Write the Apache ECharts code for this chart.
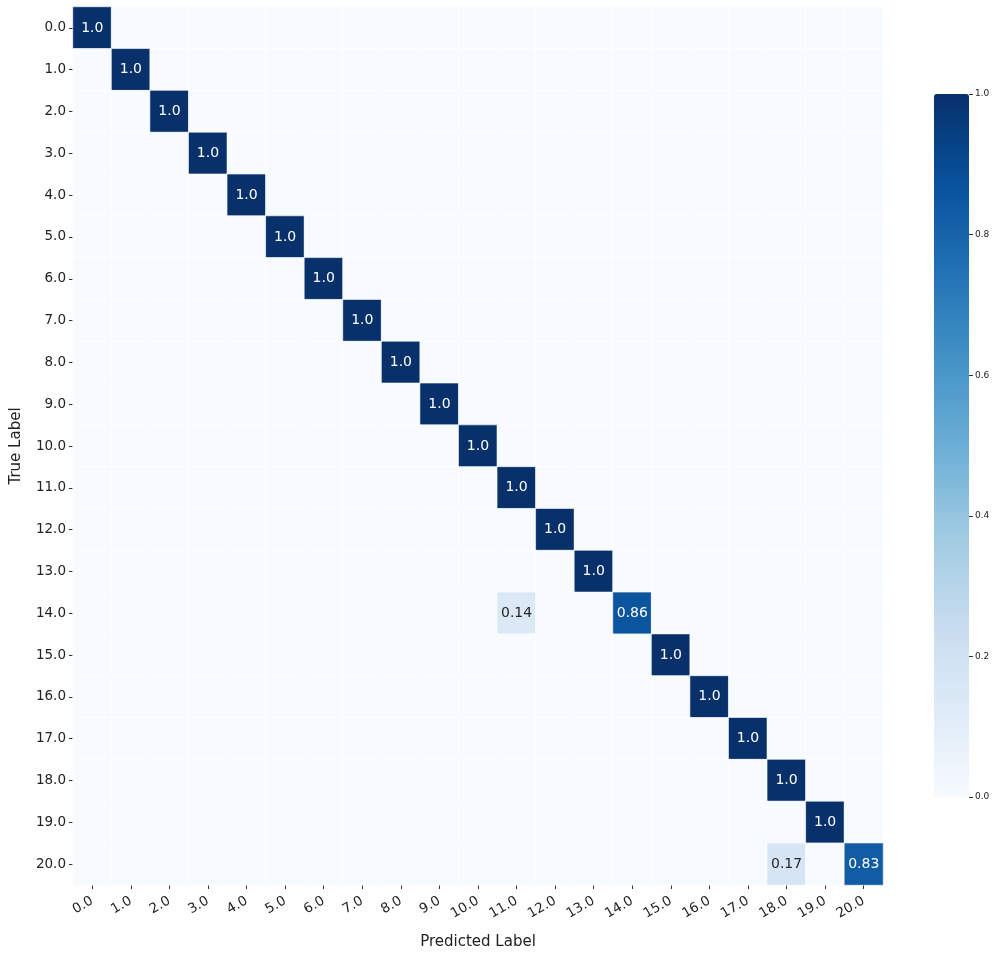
<!DOCTYPE html>
<html><head><meta charset="utf-8">
<script src="https://cdn.jsdelivr.net/npm/echarts@6/dist/echarts.min.js"></script>
<style>html,body{margin:0;padding:0;background:#fff}#c{width:997px;height:955px}</style>
</head><body><div id="c"></div>
<script>
const labels = ['0.0','1.0','2.0','3.0','4.0','5.0','6.0','7.0','8.0','9.0','10.0','11.0','12.0','13.0','14.0','15.0','16.0','17.0','18.0','19.0','20.0'];
// non-zero cells: [predictedIndex, trueIndex, value]
const nonZero = [
  [0,0,1.0],[1,1,1.0],[2,2,1.0],[3,3,1.0],[4,4,1.0],[5,5,1.0],[6,6,1.0],[7,7,1.0],
  [8,8,1.0],[9,9,1.0],[10,10,1.0],[11,11,1.0],[12,12,1.0],[13,13,1.0],
  [11,14,0.14],[14,14,0.86],[15,15,1.0],[16,16,1.0],[17,17,1.0],[18,18,1.0],
  [19,19,1.0],[18,20,0.17],[20,20,0.83]
];
const colorbarTicks = [0.0,0.2,0.4,0.6,0.8,1.0];
const blues = ['#f7fbff','#deebf7','#c6dbef','#9ecae1','#6baed6','#4292c6','#2171b5','#08519c','#08306b'];

const n = labels.length;
const map = {};
nonZero.forEach(d => { map[d[0]+','+d[1]] = d[2]; });
const data = [];
for (let y = 0; y < n; y++) for (let x = 0; x < n; x++) {
  const v = map[x+','+y] || 0;
  data.push({value: [x, y, v], label: {color: v > 0.5 ? '#ffffff' : '#262626'}});
}
const FONT = 'DejaVu Sans';
const chart = echarts.init(document.getElementById('c'));
chart.setOption({
  backgroundColor: '#fff',
  animation: false,
  textStyle: {fontFamily: FONT},
  grid: [
    {left: 73, top: 7, width: 810, height: 878, containLabel: false, outerBoundsMode: 'none'},
    {left: 934, top: 94, width: 35, height: 703, containLabel: false, outerBoundsMode: 'none'}
  ],
  xAxis: [
    {type: 'category', data: labels, gridIndex: 0,
     name: 'Predicted Label', nameLocation: 'middle', nameGap: 50,
     nameTextStyle: {fontSize: 15, color: '#222', fontFamily: FONT},
     axisLine: {show: false}, splitLine: {show: false},
     axisTick: {show: true, alignWithLabel: true, length: 4, lineStyle: {color: '#333'}},
     axisLabel: {rotate: 30, fontSize: 13.5, color: '#222', margin: 15, fontFamily: FONT}},
    {type: 'category', data: [''], gridIndex: 1, show: false,
     axisTick: {show: false}, axisLabel: {show: false}, axisLine: {show: false}, splitLine: {show: false}}
  ],
  yAxis: [
    {type: 'category', data: labels, gridIndex: 0, inverse: true,
     name: 'True Label', nameLocation: 'middle', nameGap: 49, nameRotate: 90,
     nameTextStyle: {fontSize: 15, color: '#222', fontFamily: FONT},
     axisLine: {show: false}, splitLine: {show: false},
     axisTick: {show: true, alignWithLabel: true, length: 4, lineStyle: {color: '#333'}},
     axisLabel: {fontSize: 13.5, color: '#222', margin: 7, fontFamily: FONT}},
    {type: 'value', gridIndex: 1, position: 'right', min: 0, max: 1, interval: 0.2,
     axisLine: {show: false}, splitLine: {show: false},
     axisTick: {show: true, length: 4, lineStyle: {color: '#333'}},
     axisLabel: {fontSize: 9, color: '#222', margin: 6, formatter: v => v.toFixed(1), fontFamily: FONT}}
  ],
  visualMap: {
    type: 'continuous', min: 0, max: 1, seriesIndex: 0,
    calculable: false, orient: 'vertical', left: 934, top: 94,
    itemWidth: 35, itemHeight: 703, padding: 0, text: ['', ''], itemGap: 0,
    inRange: {color: blues}
  },
  series: [{
    type: 'heatmap', xAxisIndex: 0, yAxisIndex: 0, data: data,
    itemStyle: {borderColor: '#ffffff', borderWidth: 0.6},
    label: {show: true, fontSize: 14, fontFamily: FONT,
      formatter: p => {
        const v = p.value[2];
        if (v === 0) return '';
        return v === 1 ? '1.0' : v.toFixed(2);
      }
    },
    emphasis: {disabled: true}
  }]
});
</script></body></html>
